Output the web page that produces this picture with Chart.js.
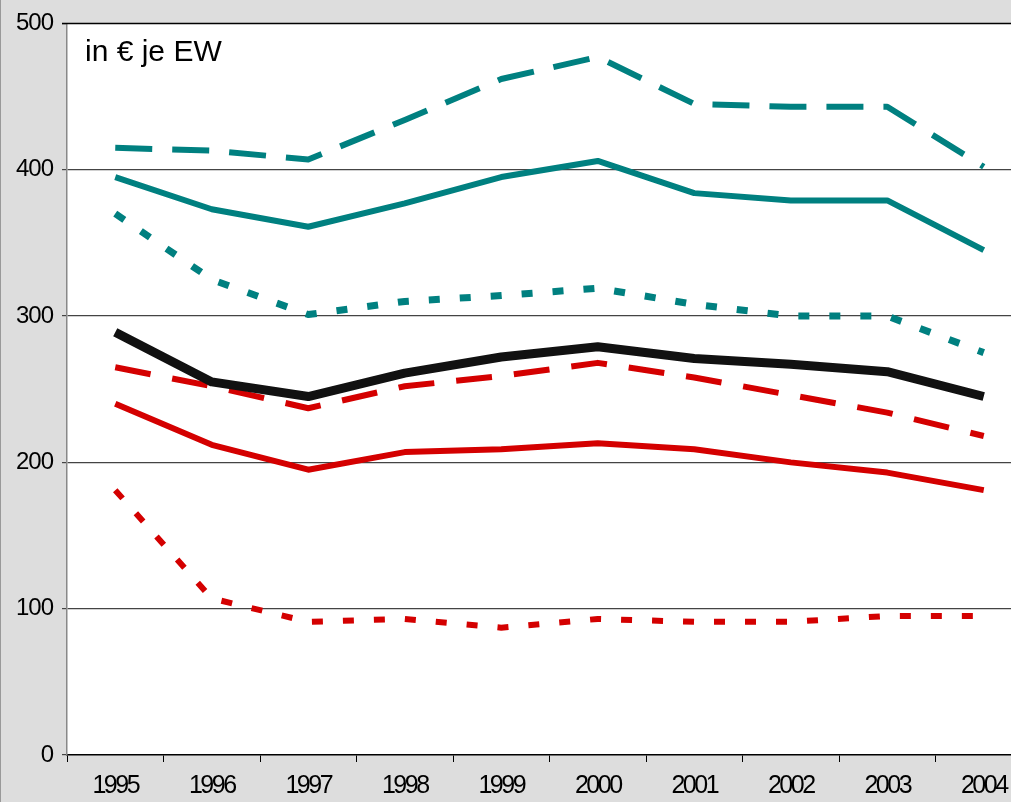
<!DOCTYPE html>
<html>
<head>
<meta charset="utf-8">
<script src="https://cdn.jsdelivr.net/npm/chart.js@4/dist/chart.umd.min.js"></script>
<style>
  html, body { margin: 0; padding: 0; overflow: hidden; background: #dddddd; }
  canvas { display: block; }
</style>
</head>
<body>
<canvas id="chart" width="1032" height="802"></canvas>
<script>
// years on the x axis
var years = ['1995', '1996', '1997', '1998', '1999', '2000', '2001', '2002', '2003', '2004'];
var yTicks = [0, 100, 200, 300, 400, 500];

// series (€ per inhabitant)
var tealDashed = [415, 413, 407, 434, 462, 477, 445, 443, 443, 402];
var tealSolid  = [395, 373, 361, 377, 395, 406, 384, 379, 379, 345];
var tealDotted = [370, 325, 301, 310, 314, 319, 308, 300, 300, 275];
var blackThick = [289, 255, 245, 261, 272, 279, 271, 267, 262, 245];
var redDashed  = [265, 252, 237, 252, 259, 268, 258, 246, 234, 218];
var redSolid   = [240, 212, 195, 207, 209, 213, 209, 200, 193, 181];
var redDotted  = [181, 107, 91, 93, 87, 93, 91, 91, 95, 95];

var TEAL = '#008080';
var RED = '#d40000';
var FONT = '"Liberation Sans", Arial, sans-serif';

function line(data, color, width, dash) {
    return {
        data: data,
        borderColor: color,
        borderWidth: width,
        borderDash: dash || [],
        borderCapStyle: 'butt',
        borderJoinStyle: 'round',
        pointRadius: 0,
        tension: 0,
        fill: false
    };
}

// the labels in the original are squeezed together a bit
function tightLabels(spacing) {
    return function (scale) {
        if (scale._tight) return;
        scale._tight = true;
        var orig = scale.drawLabels;
        scale.drawLabels = function (area) {
            var ctx = this.ctx;
            ctx.save();
            ctx.letterSpacing = spacing;
            orig.call(this, area);
            ctx.restore();
        };
    };
}

// gray frame, white plot area and the unit note
var backdrop = {
    id: 'backdrop',
    beforeDraw: function (chart) {
        var ctx = chart.ctx, a = chart.chartArea;
        ctx.save();
        ctx.fillStyle = '#dddddd';
        ctx.fillRect(0, 0, chart.width, chart.height);
        ctx.fillStyle = '#ffffff';
        ctx.fillRect(a.left, a.top, a.right - a.left, a.bottom - a.top);
        ctx.fillStyle = '#999999';
        ctx.fillRect(0, 0, 1, chart.height);
        ctx.restore();
    },
    afterDraw: function (chart) {
        var ctx = chart.ctx, a = chart.chartArea;
        ctx.save();
        ctx.fillStyle = '#000000';
        ctx.font = '30px ' + FONT;
        ctx.textBaseline = 'alphabetic';
        ctx.fillText('in € je EW', a.left + 18, 61);
        ctx.strokeStyle = '#000000';
        ctx.lineWidth = 1.5;
        ctx.beginPath();
        ctx.moveTo(a.left - 5, a.top);
        ctx.lineTo(a.right, a.top);
        ctx.stroke();
        ctx.restore();
    }
};

new Chart(document.getElementById('chart'), {
    type: 'line',
    data: {
        labels: years,
        datasets: [
            line(blackThick, '#111111', 9),
            line(tealDashed, TEAL, 6, [37, 20]),
            line(tealSolid, TEAL, 6),
            line(tealDotted, TEAL, 7, [11, 20]),
            line(redDashed, RED, 6, [36, 22]),
            line(redSolid, RED, 6),
            line(redDotted, RED, 6, [11, 20])
        ]
    },
    options: {
        responsive: false,
        animation: false,
        layout: { padding: { top: 22, left: 0, right: 0, bottom: 0 } },
        plugins: {
            legend: { display: false },
            tooltip: { enabled: false }
        },
        scales: {
            x: {
                offset: true,
                grid: {
                    offset: true,
                    drawOnChartArea: false,
                    drawTicks: true,
                    tickLength: 7,
                    tickColor: '#000000'
                },
                border: { color: '#000000', width: 1.5 },
                ticks: {
                    color: '#000000',
                    font: { family: FONT, size: 25 },
                    padding: 9,
                    maxRotation: 0,
                    autoSkip: false
                },
                afterFit: function (scale) { scale.height = 47; },
                afterUpdate: tightLabels('-2.5px')
            },
            y: {
                min: 0,
                max: 500,
                afterBuildTicks: function (scale) {
                    scale.ticks = yTicks.map(function (v) { return { value: v }; });
                },
                grid: {
                    color: function (c) {
                        if (c.tick.value === 0 || c.tick.value === 500) return 'rgba(0,0,0,0)';
                        return '#444444';
                    },
                    lineWidth: 1.2,
                    tickLength: 5,
                    tickColor: '#444444'
                },
                border: { color: '#888888', width: 1.5 },
                ticks: {
                    color: '#000000',
                    font: { family: FONT, size: 24 },
                    padding: 9
                },
                afterFit: function (scale) { scale.width = 67; },
                afterUpdate: tightLabels('-1px')
            }
        }
    },
    plugins: [backdrop]
});
</script>
</body>
</html>
